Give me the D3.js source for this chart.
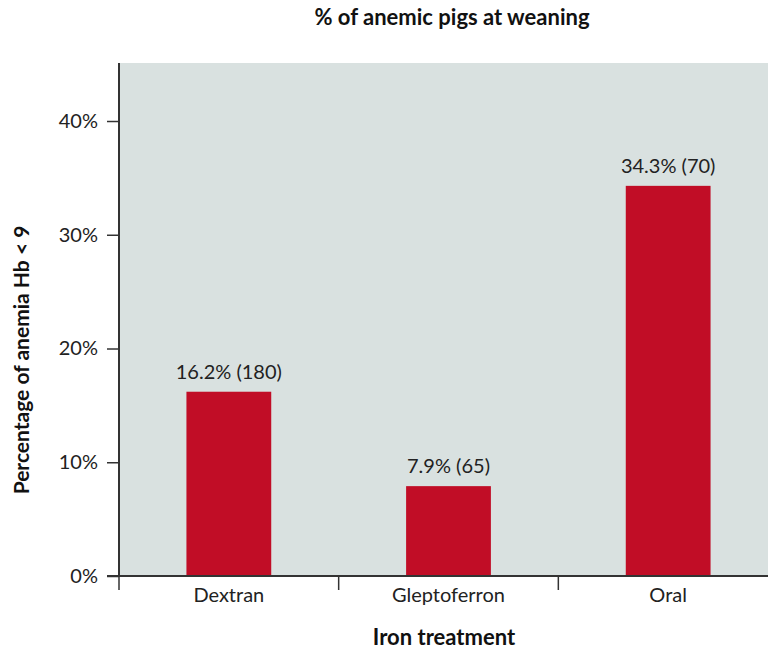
<!DOCTYPE html>
<html><head><meta charset="utf-8">
<script src="https://cdn.jsdelivr.net/npm/d3@7"></script>
<style>
body{margin:0;background:#fff;}
text{font-family:Lato,"Open Sans",sans-serif;}
</style></head>
<body>
<svg id="chart" width="768" height="650"></svg>
<script>
const categories = ["Dextran", "Gleptoferron", "Oral"];
const values = [16.2, 7.9, 34.3];
const counts = [180, 65, 70];
const yTicks = [0, 10, 20, 30, 40];
const title = "% of anemic pigs at weaning";
const xTitle = "Iron treatment";
const yTitle = "Percentage of anemia Hb < 9";

const svg = d3.select("#chart");
const m = {left:119, top:63, right:778, bottom:576};

const x = d3.scaleBand().domain(categories).range([m.left, m.right]).padding(0);
const y = d3.scaleLinear().domain([0, 45.1]).range([m.bottom, m.top]);

svg.append("rect").attr("x", m.left).attr("y", m.top)
  .attr("width", m.right - m.left).attr("height", m.bottom - m.top)
  .attr("fill", "#d9e1e0");

const bw = x.bandwidth() * 0.386;
svg.selectAll("rect.bar").data(values).enter().append("rect")
  .attr("class", "bar")
  .attr("x", (d, i) => x(categories[i]) + x.bandwidth()/2 - bw/2)
  .attr("y", d => y(d))
  .attr("width", bw)
  .attr("height", d => y(0) - y(d))
  .attr("fill", "#c10d26");

svg.selectAll("text.val").data(values).enter().append("text")
  .attr("class", "val")
  .attr("x", (d, i) => x(categories[i]) + x.bandwidth()/2)
  .attr("y", d => y(d) - 13)
  .attr("text-anchor", "middle")
  .attr("font-size", 20).attr("fill", "#222")
  .text((d, i) => d.toFixed(1) + "% (" + counts[i] + ")");

// y axis
const yAxis = d3.axisLeft(y).tickValues(yTicks).tickFormat(d => d + "%").tickSize(12).tickPadding(9);
const gy = svg.append("g").attr("transform", `translate(${m.left},0)`).call(yAxis);
gy.select(".domain").remove();
gy.selectAll(".tick line").attr("stroke", "#333").attr("stroke-width", 1.5);
gy.selectAll(".tick text").attr("font-size", 20).attr("fill", "#222").attr("font-family", "Lato");
gy.append("line").attr("x1", 0).attr("x2", 0).attr("y1", m.top).attr("y2", m.bottom)
  .attr("stroke", "#333").attr("stroke-width", 2);

// x axis
const gx = svg.append("g").attr("transform", `translate(0,${m.bottom})`);
gx.append("line").attr("x1", m.left - 12).attr("x2", m.right).attr("y1", 0).attr("y2", 0)
  .attr("stroke", "#333").attr("stroke-width", 2);
gx.selectAll("line.tk").data(categories).enter().append("line")
  .attr("class", "tk")
  .attr("x1", d => x(d)).attr("x2", d => x(d))
  .attr("y1", 0).attr("y2", 14)
  .attr("stroke", "#333").attr("stroke-width", 1.5);
gx.selectAll("text.lbl").data(categories).enter().append("text")
  .attr("class", "lbl")
  .attr("x", d => x(d) + x.bandwidth()/2)
  .attr("y", 26)
  .attr("text-anchor", "middle").attr("font-size", 20).attr("fill", "#222")
  .text(d => d);

svg.append("text").attr("x", 452).attr("y", 25).attr("text-anchor", "middle")
  .attr("font-size", 22).attr("font-weight", "bold").attr("fill", "#111").text(title);
svg.append("text").attr("x", 444).attr("y", 645).attr("text-anchor", "middle")
  .attr("font-size", 22).attr("font-weight", "bold").attr("fill", "#111").text(xTitle);
svg.append("text").attr("transform", "translate(29,360) rotate(-90)").attr("text-anchor", "middle")
  .attr("font-size", 21).attr("font-weight", "bold").attr("fill", "#111").text(yTitle);
</script>
</body></html>
